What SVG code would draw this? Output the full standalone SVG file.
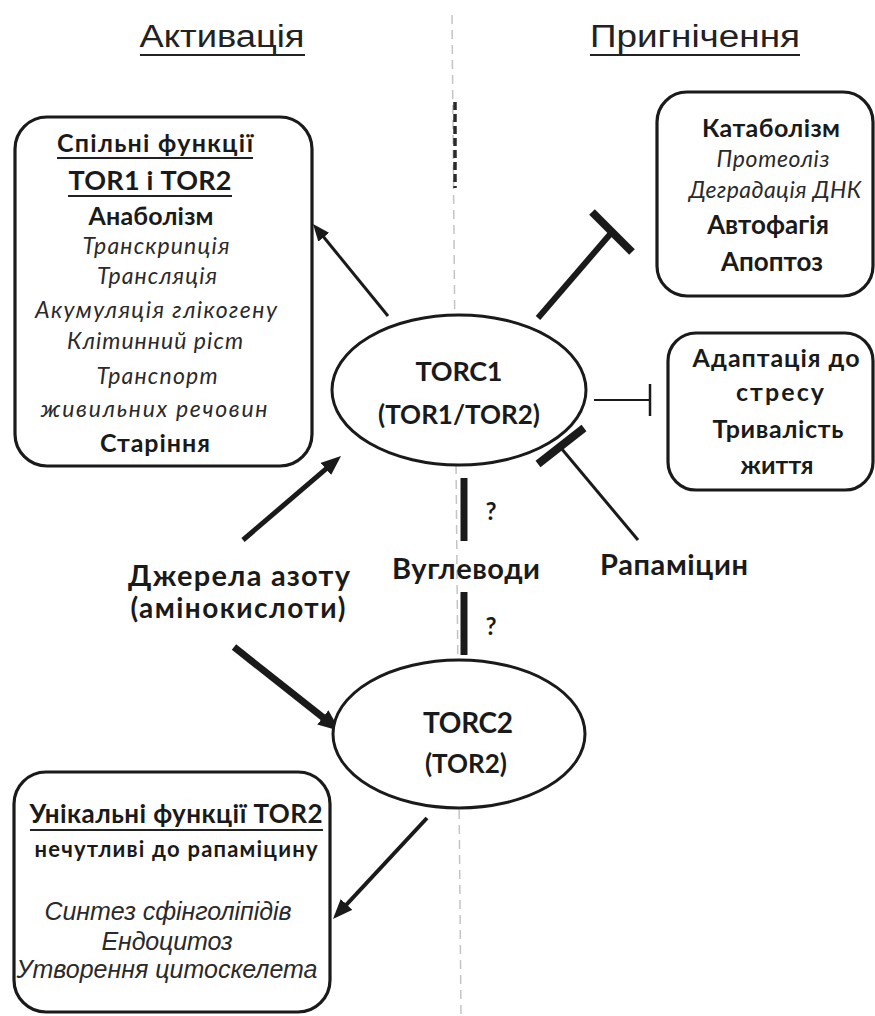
<svg xmlns="http://www.w3.org/2000/svg" width="875" height="1016" viewBox="0 0 875 1016">
<style>
  .box{fill:#fff;stroke:#1a1a1a;stroke-width:3.2}
  .ell{fill:#fff;stroke:#1a1a1a;stroke-width:3}
  .title{font-family:"Liberation Sans",Arial,sans-serif;font-size:31px;fill:#222;text-anchor:middle}
  .b{font-family:Lato,"Open Sans",sans-serif;font-weight:bold;font-size:25px;fill:#1a1a1a;text-anchor:middle}
  .i{font-family:Lato,"Open Sans",sans-serif;font-style:italic;font-size:23px;fill:#2a2a2a;text-anchor:middle}
  .ai{font-family:"Liberation Sans",Arial,sans-serif;font-style:italic;font-size:25px;fill:#2a2a2a;text-anchor:middle}
  .ul{stroke:#222;stroke-width:2}
  .ln{stroke:#1a1a1a;fill:none}
</style>
<defs>
  <marker id="arrS" markerUnits="userSpaceOnUse" viewBox="0 0 17 14" markerWidth="17" markerHeight="14" refX="5" refY="7" orient="auto" preserveAspectRatio="none"><path d="M0,0 L17,7 L0,14 z" fill="#1a1a1a"/></marker>
  <marker id="arrM" markerUnits="userSpaceOnUse" viewBox="0 0 20 16" markerWidth="20" markerHeight="16" refX="6" refY="8" orient="auto" preserveAspectRatio="none"><path d="M0,0 L20,8 L0,16 z" fill="#1a1a1a"/></marker>
  <marker id="arrL" markerUnits="userSpaceOnUse" viewBox="0 0 22 18" markerWidth="22" markerHeight="18" refX="6" refY="9" orient="auto" preserveAspectRatio="none"><path d="M0,0 L22,9 L0,18 z" fill="#1a1a1a"/></marker>
</defs>
<rect width="875" height="1016" fill="#fff"/>

<g id="divider">
  <line x1="452" y1="15" x2="461" y2="1016" stroke="#c4c4c4" stroke-width="1.5" stroke-dasharray="9 6"/>
  <line x1="455" y1="102" x2="455" y2="188" stroke="#2a2a2a" stroke-width="3.5" stroke-dasharray="8 4"/>
</g>

<g id="titles">
  <text class="title" x="222" y="47" textLength="165" lengthAdjust="spacingAndGlyphs">Активація</text>
  <line class="ul" x1="140" y1="55" x2="305" y2="55" stroke-width="2.5"/>
  <text class="title" x="695" y="47" textLength="210" lengthAdjust="spacingAndGlyphs">Пригнічення</text>
  <line class="ul" x1="590" y1="55" x2="800" y2="55" stroke-width="2.5"/>
</g>

<g id="connectors">
  <line class="ln" x1="388" y1="316" x2="320.6" y2="233.3" stroke-width="3" marker-end="url(#arrS)"/>
  <line class="ln" x1="538" y1="318" x2="612" y2="232" stroke-width="6"/>
  <line class="ln" x1="592" y1="212" x2="632" y2="252" stroke-width="8"/>
  <line class="ln" x1="594" y1="400" x2="650" y2="400" stroke-width="2"/>
  <line class="ln" x1="650" y1="384" x2="650" y2="416" stroke-width="2.5"/>
  <line class="ln" x1="638" y1="540" x2="561" y2="448" stroke-width="3"/>
  <line class="ln" x1="538" y1="464" x2="584" y2="428" stroke-width="8"/>
  <line class="ln" x1="243" y1="540" x2="330.4" y2="465.1" stroke-width="5" marker-end="url(#arrM)"/>
  <line class="ln" x1="234" y1="647" x2="327.5" y2="721.1" stroke-width="7" marker-end="url(#arrL)"/>
  <line class="ln" x1="464" y1="478" x2="464" y2="541" stroke-width="7"/>
  <line class="ln" x1="464" y1="592" x2="464" y2="655" stroke-width="7"/>
  <line class="ln" x1="427" y1="818" x2="342.5" y2="908.8" stroke-width="4" marker-end="url(#arrM)"/>
</g>

<g id="shared-functions">
  <rect class="box" x="15" y="117" width="297" height="349" rx="32"/>
  <text class="b" x="155" y="152" textLength="196">Спільні функції</text>
  <line class="ul" x1="57" y1="158" x2="253" y2="158"/>
  <text class="b" x="150" y="190" style="font-size:27px" textLength="163">TOR1 і TOR2</text>
  <line class="ul" x1="68" y1="196" x2="232" y2="196"/>
  <text class="b" x="151" y="225" textLength="125">Анаболізм</text>
  <text class="i" x="156" y="254" textLength="147">Транскрипція</text>
  <text class="i" x="157" y="284" textLength="120">Трансляція</text>
  <text class="i" x="156" y="318" textLength="242">Акумуляція глікогену</text>
  <text class="i" x="155" y="349" textLength="176">Клітинний ріст</text>
  <text class="i" x="157" y="384" textLength="121">Транспорт</text>
  <text class="i" x="154" y="417" textLength="227">живильних речовин</text>
  <text class="b" x="155" y="452" textLength="110">Старіння</text>
</g>

<g id="catabolism">
  <rect class="box" x="657" y="92" width="216" height="204" rx="30"/>
  <text class="b" x="771" y="137" textLength="138">Катаболізм</text>
  <text class="i" x="773" y="167" textLength="113">Протеоліз</text>
  <text class="i" x="775" y="198" textLength="172">Деградація ДНК</text>
  <text class="b" x="768" y="234" style="font-size:26px">Автофагія</text>
  <text class="b" x="772" y="271" style="font-size:26px">Апоптоз</text>
</g>

<g id="stress">
  <rect class="box" x="668" y="333" width="205" height="157" rx="28"/>
  <text class="b" x="776" y="367" textLength="167">Адаптація до</text>
  <text class="b" x="780" y="401" textLength="88">стресу</text>
  <text class="b" x="778" y="438" textLength="131">Тривалість</text>
  <text class="b" x="777" y="474" textLength="73">життя</text>
</g>

<g id="torc1">
  <ellipse class="ell" cx="459" cy="390" rx="127" ry="75"/>
  <text class="b" x="459" y="381" style="font-size:27px" textLength="87">TORC1</text>
  <text class="b" x="459" y="424" style="font-size:26px" textLength="162">(TOR1/TOR2)</text>
</g>

<g id="torc2">
  <ellipse class="ell" cx="459" cy="734" rx="126" ry="74"/>
  <text class="b" x="468" y="733" style="font-size:28px" textLength="90">TORC2</text>
  <text class="b" x="466" y="773" style="font-size:26px" textLength="82">(TOR2)</text>
</g>

<g id="nitrogen">
  <text class="b" x="239" y="586" style="font-size:29px" textLength="222">Джерела азоту</text>
  <text class="b" x="238" y="618" style="font-size:28px" textLength="215">(амінокислоти)</text>
</g>

<g id="carbohydrates">
  <text class="b" x="466" y="579" style="font-size:29px" textLength="148">Вуглеводи</text>
  <text class="b" x="491" y="520" style="font-size:24px">?</text>
  <text class="b" x="491" y="635" style="font-size:24px">?</text>
</g>

<g id="rapamycin">
  <text class="b" x="674" y="575" style="font-size:29px" textLength="148">Рапаміцин</text>
</g>

<g id="tor2-unique">
  <rect class="box" x="14" y="772" width="316" height="240" rx="32"/>
  <text class="b" x="176" y="823" style="font-size:26px" textLength="293">Унікальні функції TOR2</text>
  <line class="ul" x1="30" y1="830" x2="323" y2="830"/>
  <text class="b" x="176" y="857" style="font-size:22px" textLength="283">нечутливі до рапаміцину</text>
  <text class="ai" x="168" y="920" textLength="247">Синтез сфінголіпідів</text>
  <text class="ai" x="167" y="950" textLength="131">Ендоцитоз</text>
  <text class="ai" x="167" y="978" textLength="301">Утворення цитоскелета</text>
</g>
</svg>
